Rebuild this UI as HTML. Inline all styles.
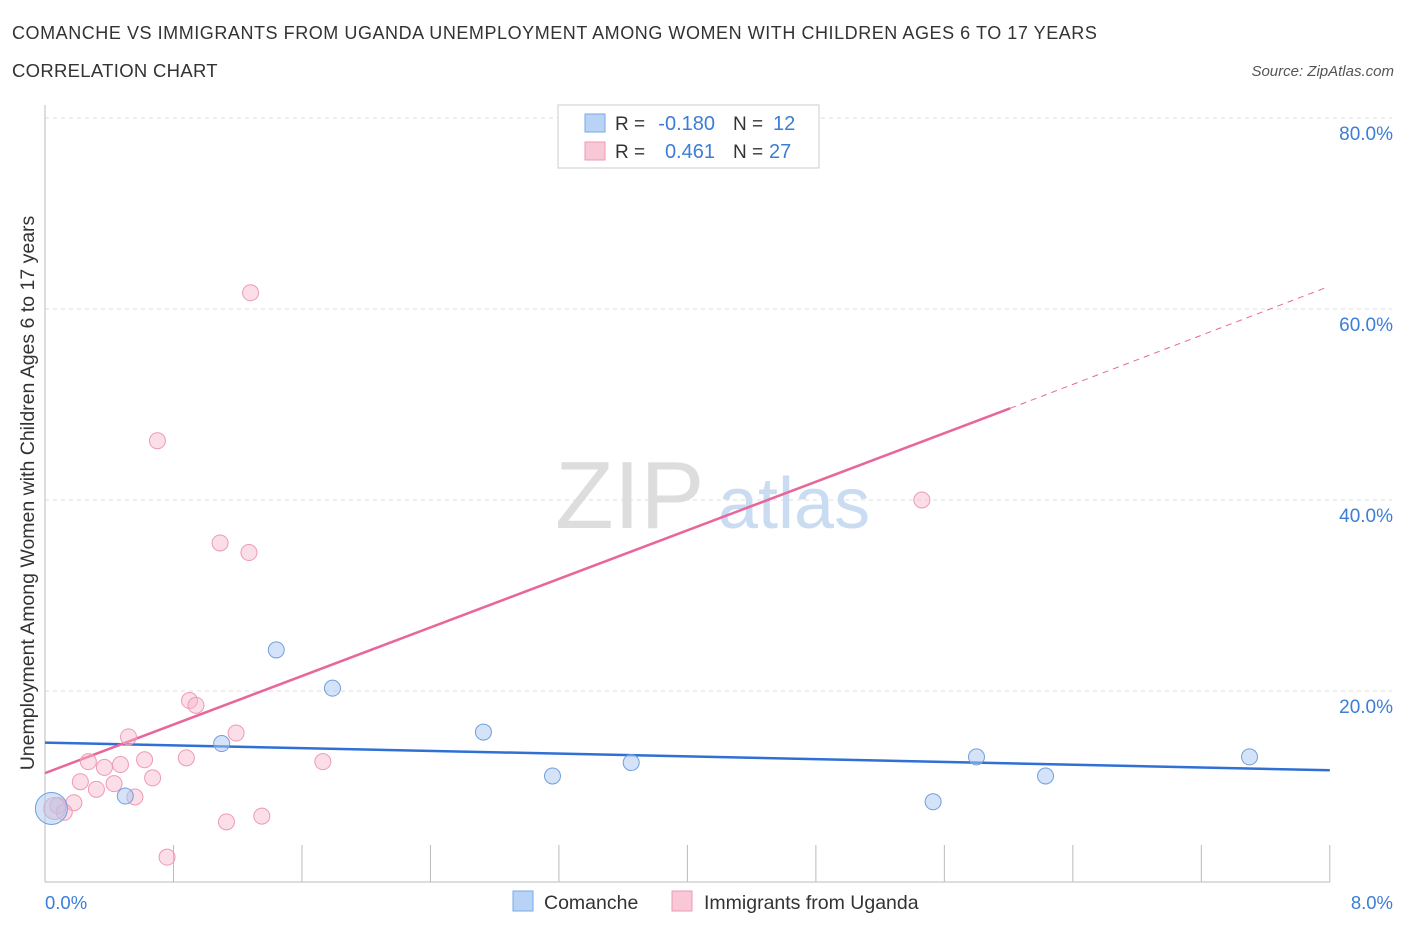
<!DOCTYPE html>
<html><head><meta charset="utf-8"><style>
body{margin:0;background:#fff;font-family:"Liberation Sans",sans-serif;}
svg text{font-family:"Liberation Sans",sans-serif;}
</style></head><body>
<svg width="1406" height="930" xmlns="http://www.w3.org/2000/svg">
<text x="12" y="39" font-size="18" fill="#333" letter-spacing="0.55">COMANCHE VS IMMIGRANTS FROM UGANDA UNEMPLOYMENT AMONG WOMEN WITH CHILDREN AGES 6 TO 17 YEARS</text>
<text x="12" y="77" font-size="18.5" fill="#333" letter-spacing="0.3">CORRELATION CHART</text>
<text x="1394" y="76" font-size="15" fill="#555" font-style="italic" text-anchor="end">Source: ZipAtlas.com</text>
<g id="grid"></g>
<text x="555" y="528" font-size="96" fill="#ddd" font-family="Liberation Serif">ZIP</text>
<text x="718" y="528" font-size="72" fill="#c9dcf2">atlas</text>
<line x1="45" y1="105" x2="45" y2="882" stroke="#bbb"/>
<line x1="45" y1="882" x2="1330" y2="882" stroke="#bbb"/>
<g id="ticks"></g>
<g id="lines"></g>
<g id="pts"></g>
<text x="34" y="493" font-size="19.5" fill="#333" text-anchor="middle" transform="rotate(-90 34 493)">Unemployment Among Women with Children Ages 6 to 17 years</text>
<text x="45" y="909" font-size="18.5" fill="#3b7dd8">0.0%</text>
<text x="1393" y="909" font-size="18.5" fill="#3b7dd8" text-anchor="end">8.0%</text>
<g>
<rect x="558" y="105" width="261" height="63" fill="#fff" stroke="#ccc"/>
<rect x="585" y="114" width="20" height="18" fill="#b8d3f5" stroke="#7aaae8"/>
<rect x="585" y="142" width="20" height="18" fill="#f9c8d6" stroke="#ee9ab4"/>
<text x="615" y="130" font-size="19" fill="#333">R =</text>
<text x="715" y="130" font-size="20" fill="#3b7dd8" text-anchor="end">-0.180</text>
<text x="733" y="130" font-size="19" fill="#333">N =</text>
<text x="773" y="130" font-size="20" fill="#3b7dd8">12</text>
<text x="615" y="158" font-size="19" fill="#333">R =</text>
<text x="715" y="158" font-size="20" fill="#3b7dd8" text-anchor="end">0.461</text>
<text x="733" y="158" font-size="19" fill="#333">N =</text>
<text x="769" y="158" font-size="20" fill="#3b7dd8">27</text>
</g>
<g>
<rect x="513" y="891" width="20" height="20" fill="#b8d3f5" stroke="#7aaae8"/>
<text x="544" y="909" font-size="19.5" fill="#333">Comanche</text>
<rect x="672" y="891" width="20" height="20" fill="#f9c8d6" stroke="#ee9ab4"/>
<text x="704" y="909" font-size="19.5" fill="#333">Immigrants from Uganda</text>
</g>
</svg>
<script>
const yTicks=[20,40,60,80];
const yTickLabels=["20.0%","40.0%","60.0%","80.0%"];
const xTicks=[0,0.8,1.6,2.4,3.2,4.0,4.8,5.6,6.4,7.2,8.0];
const comancheX=[0.04,0.50,1.10,1.44,1.79,2.73,3.16,3.65,5.53,5.80,6.23,7.50];
const comancheY=[7.7,9.0,14.5,24.3,20.3,15.7,11.1,12.5,8.4,13.1,11.1,13.1];
const ugandaX=[1.28,0.70,1.09,1.27,5.46,0.90,0.94,1.19,0.52,0.27,0.62,0.88,1.73,0.37,0.47,0.67,0.22,0.43,0.32,0.56,0.18,0.08,0.12,1.13,1.35,0.76,0.06];
const ugandaY=[61.7,46.2,35.5,34.5,40.0,19.0,18.5,15.6,15.2,12.6,12.8,13.0,12.6,12.0,12.3,10.9,10.5,10.3,9.7,8.9,8.3,8.0,7.3,6.3,6.9,2.6,7.7];
const comancheTrend=[14.6,11.7];
const ugandaTrend=[11.4,49.6,62.2];
const trendX=[0,8];
const ugandaTrendX=[0,6.01,7.97];
const sx=v=>45+v*160.6, sy=v=>882-v*9.55;
const NS="http://www.w3.org/2000/svg";
function mk(p,t,a){const e=document.createElementNS(NS,t);for(const k in a)e.setAttribute(k,a[k]);p.appendChild(e);return e;}
const grid=document.getElementById('grid');
yTicks.forEach((v,i)=>{
 const l=mk(grid,'line',{x1:45,x2:1392,y1:sy(v),y2:sy(v),stroke:'#ddd','stroke-dasharray':'4 4'});
 
 
 const t=mk(grid,'text',{x:1393,y:sy(v)+22,'font-size':19,fill:'#3b7dd8','text-anchor':'end'});
 t.textContent=yTickLabels[i];
 
 
});
const ticks=document.getElementById('ticks');
xTicks.forEach(v=>{
 const l=mk(ticks,'line',{x1:sx(v),x2:sx(v),y1:845,y2:882,stroke:'#bbb'});
 
 
});
const lines=document.getElementById('lines');
let l1=mk(lines,'line',{x1:sx(trendX[0]),y1:sy(comancheTrend[0]),x2:sx(trendX[1]),y2:sy(comancheTrend[1]),stroke:'#2f6fd6','stroke-width':2.5});


let l2=mk(lines,'line',{x1:sx(ugandaTrendX[0]),y1:sy(ugandaTrend[0]),x2:sx(ugandaTrendX[1]),y2:sy(ugandaTrend[1]),stroke:'#e8679a','stroke-width':2.5});


let l3=mk(lines,'line',{x1:sx(ugandaTrendX[1]),y1:sy(ugandaTrend[1]),x2:sx(ugandaTrendX[2]),y2:sy(ugandaTrend[2]),stroke:'#e8679a','stroke-width':1,'stroke-dasharray':'6 5'});


const pts=document.getElementById('pts');
ugandaX.forEach((x,i)=>{
 const c=mk(pts,'circle',{cx:sx(x),cy:sy(ugandaY[i]),r:i==26?11:8,fill:'rgba(247,182,202,0.45)',stroke:'#ee9ab4','stroke-width':1});
 
 
});
comancheX.forEach((x,i)=>{
 const c=mk(pts,'circle',{cx:sx(x),cy:sy(comancheY[i]),r:i==0?16:8,fill:'rgba(170,200,240,0.5)',stroke:'#6f9fe0','stroke-width':1});
 
 
});
</script>
</body></html>
